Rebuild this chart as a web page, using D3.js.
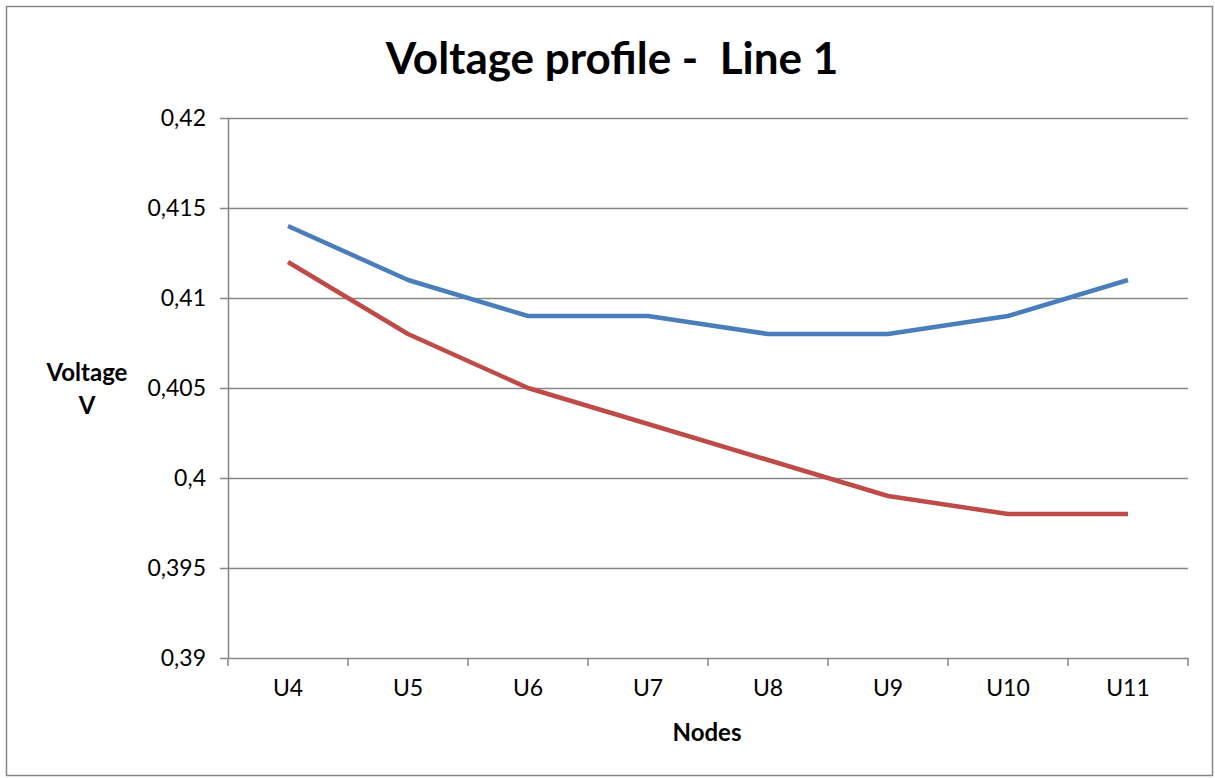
<!DOCTYPE html>
<html>
<head>
<meta charset="utf-8">
<script src="https://cdn.jsdelivr.net/npm/d3@7/dist/d3.min.js"></script>
<style>
  body { margin: 0; background: #fff; }
  text { font-family: Lato, "Open Sans", sans-serif; fill: #000; }
</style>
</head>
<body>
<div id="chart"></div>
<script>
//
// Data
//
var nodes = ["U4", "U5", "U6", "U7", "U8", "U9", "U10", "U11"];
var seriesBlue = [0.414, 0.411, 0.409, 0.409, 0.408, 0.408, 0.409, 0.411];
var seriesRed  = [0.412, 0.408, 0.405, 0.403, 0.401, 0.399, 0.398, 0.398];
var yTicks = [0.39, 0.395, 0.4, 0.405, 0.41, 0.415, 0.42];

var W = 1215, H = 778;
var margin = { top: 118, right: 27, bottom: 120, left: 228 },
    width  = W - margin.left - margin.right,
    height = H - margin.top - margin.bottom;

var svg = d3.select("#chart").append("svg")
    .attr("width", W)
    .attr("height", H);

// outer chart border
svg.append("rect")
    .attr("x", 6.5).attr("y", 6.5)
    .attr("width", W - 9).attr("height", H - 9)
    .attr("fill", "none")
    .attr("stroke", "#868686")
    .attr("stroke-width", 1.5);

var g = svg.append("g")
    .attr("transform", "translate(" + margin.left + "," + margin.top + ")");

var x = d3.scaleBand().domain(nodes).range([0, width]);
var y = d3.scaleLinear().domain([0.39, 0.42]).range([height, 0]);

// gridlines
g.append("g")
    .selectAll("line")
    .data(yTicks.slice(1))
    .enter().append("line")
    .attr("x1", 0).attr("x2", width)
    .attr("y1", function(d) { return Math.round(y(d)) + 0.5; })
    .attr("y2", function(d) { return Math.round(y(d)) + 0.5; })
    .attr("stroke", "#868686")
    .attr("stroke-width", 1.5);

// y axis
var yAxis = g.append("g")
    .call(d3.axisLeft(y).tickValues(yTicks).tickSize(8).tickPadding(14)
        .tickFormat(function(d) { return d3.format("")(+d.toFixed(3)).replace(".", ","); }));
yAxis.select(".domain").attr("stroke", "#868686").attr("stroke-width", 1.5).attr("d", "M0.5," + height + "V0");
yAxis.selectAll(".tick line").attr("stroke", "#868686").attr("stroke-width", 1.5);
yAxis.selectAll("text").style("font-size", "23px");

// x axis
var xAxis = g.append("g")
    .attr("transform", "translate(0," + height + ")")
    .call(d3.axisBottom(x).tickSize(0).tickPadding(22));
xAxis.select(".domain").attr("stroke", "#868686").attr("stroke-width", 1.5);
xAxis.selectAll("text").style("font-size", "23px");

// category boundary ticks
var bounds = nodes.map(function(d) { return x(d); }).concat([width]);
xAxis.selectAll(".btick")
    .data(bounds)
    .enter().append("line")
    .attr("class", "btick")
    .attr("x1", function(d) { return d; })
    .attr("x2", function(d) { return d; })
    .attr("y1", 0).attr("y2", 8)
    .attr("stroke", "#868686")
    .attr("stroke-width", 1.5);

// lines
var line = d3.line()
    .x(function(d, i) { return x(nodes[i]) + x.bandwidth() / 2; })
    .y(function(d) { return y(d); });

g.append("path")
    .datum(seriesRed)
    .attr("d", line)
    .attr("fill", "none")
    .attr("stroke", "#be4b48")
    .attr("stroke-width", 4.5)
    .attr("stroke-linejoin", "round");

g.append("path")
    .datum(seriesBlue)
    .attr("d", line)
    .attr("fill", "none")
    .attr("stroke", "#4a7ebb")
    .attr("stroke-width", 4.5)
    .attr("stroke-linejoin", "round");

// title
svg.append("text")
    .attr("x", 612).attr("y", 74)
    .attr("text-anchor", "middle")
    .style("font-size", "44px")
    .style("font-weight", "bold")
    .style("white-space", "pre")
    .text("Voltage profile -  Line 1");

// axis titles
svg.append("text")
    .attr("x", 707).attr("y", 741)
    .attr("text-anchor", "middle")
    .style("font-size", "24px")
    .style("font-weight", "bold")
    .text("Nodes");

var yt = svg.append("text")
    .attr("text-anchor", "middle")
    .style("font-size", "24px")
    .style("font-weight", "bold");
yt.append("tspan").attr("x", 87).attr("y", 381).text("Voltage");
yt.append("tspan").attr("x", 87).attr("y", 414).text("V");
</script>
</body>
</html>
